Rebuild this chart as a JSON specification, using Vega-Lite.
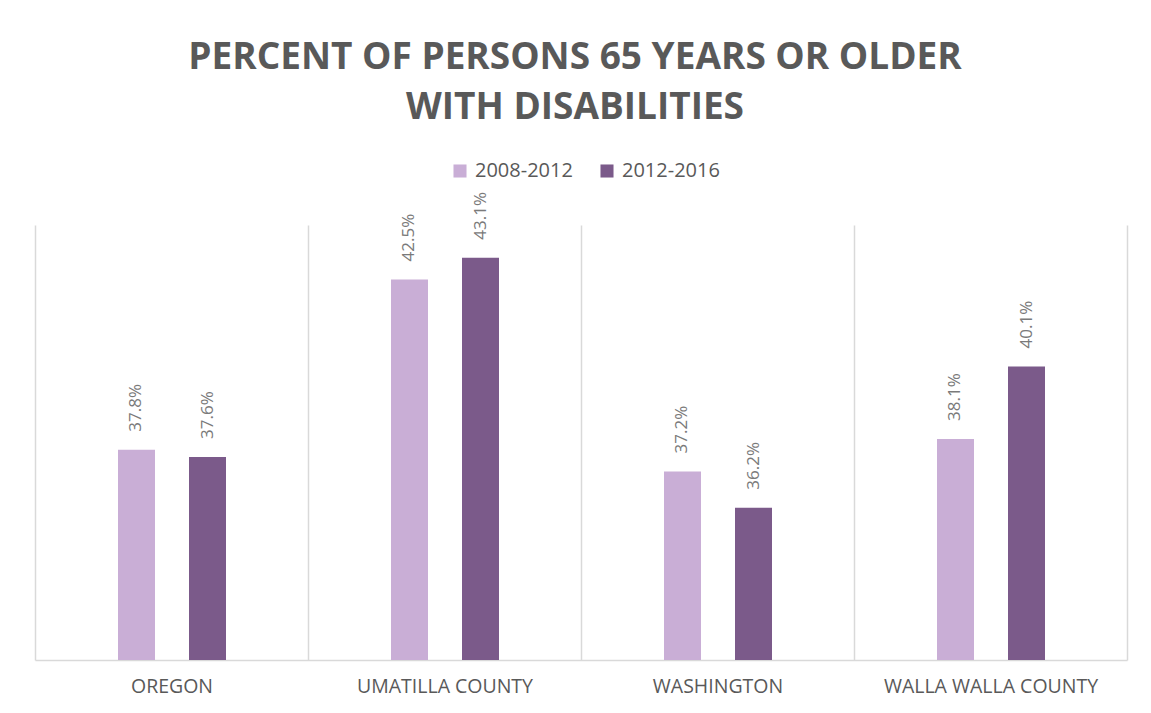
{
  "$schema": "https://vega.github.io/schema/vega-lite/v6.json",
  "width": 1092,
  "height": 435,
  "autosize": {"type": "none"},
  "padding": {"left": 35, "top": 225, "right": 24, "bottom": 53},
  "background": "white",
  "title": {
    "text": ["PERCENT OF PERSONS 65 YEARS OR OLDER", "WITH DISABILITIES"],
    "font": "Open Sans",
    "fontSize": 37,
    "fontWeight": "bold",
    "color": "#595959",
    "anchor": "middle",
    "lineHeight": 50,
    "offset": 34,
    "dx": -6
  },
  "data": {
    "values": [
      {"region": "OREGON", "period": "2008-2012", "pct": 0.378},
      {"region": "OREGON", "period": "2012-2016", "pct": 0.376},
      {"region": "UMATILLA COUNTY", "period": "2008-2012", "pct": 0.425},
      {"region": "UMATILLA COUNTY", "period": "2012-2016", "pct": 0.431},
      {"region": "WASHINGTON", "period": "2008-2012", "pct": 0.372},
      {"region": "WASHINGTON", "period": "2012-2016", "pct": 0.362},
      {"region": "WALLA WALLA COUNTY", "period": "2008-2012", "pct": 0.381},
      {"region": "WALLA WALLA COUNTY", "period": "2012-2016", "pct": 0.401}
    ]
  },
  "encoding": {
    "x": {
      "field": "region",
      "type": "nominal",
      "sort": null,
      "scale": {"paddingInner": 0, "paddingOuter": 0},
      "axis": {
        "title": null,
        "labelAngle": 0,
        "labelFont": "Open Sans",
        "labelFontSize": 19.5,
        "labelColor": "#595959",
        "labelPadding": 17,
        "labelLimit": 0,
        "ticks": false,
        "domainColor": "#d9d9d9",
        "domainWidth": 1.5,
        "grid": true,
        "gridColor": "#d9d9d9",
        "gridWidth": 1.5,
        "tickBand": "extent"
      }
    },
    "xOffset": {
      "field": "period",
      "type": "nominal",
      "scale": {"range": [83, 191], "paddingInner": 0.479, "paddingOuter": 0}
    },
    "y": {
      "field": "pct",
      "type": "quantitative",
      "scale": {"domain": [0.32, 0.44], "zero": false, "nice": false},
      "axis": null
    }
  },
  "layer": [
    {
      "mark": {"type": "bar"},
      "encoding": {
        "y2": {"datum": 0.32},
        "color": {
          "field": "period",
          "type": "nominal",
          "scale": {"domain": ["2008-2012", "2012-2016"], "range": ["#c9aed6", "#7b5a8a"]},
          "legend": {
            "title": null,
            "orient": "none",
            "legendX": 415,
            "legendY": -64,
            "direction": "horizontal",
            "symbolType": "square",
            "symbolSize": 170,
            "symbolStrokeWidth": 0,
            "labelFont": "Open Sans",
            "labelFontSize": 20,
            "labelColor": "#595959",
            "labelOffset": 5,
            "columnPadding": 24
          }
        }
      }
    },
    {
      "mark": {
        "type": "text",
        "angle": 270,
        "align": "left",
        "baseline": "middle",
        "dx": 18,
        "font": "Open Sans",
        "fontSize": 17,
        "color": "#7a7a7a"
      },
      "encoding": {
        "text": {"field": "pct", "type": "quantitative", "format": ".1%"}
      }
    }
  ],
  "config": {"view": {"stroke": null}}
}
